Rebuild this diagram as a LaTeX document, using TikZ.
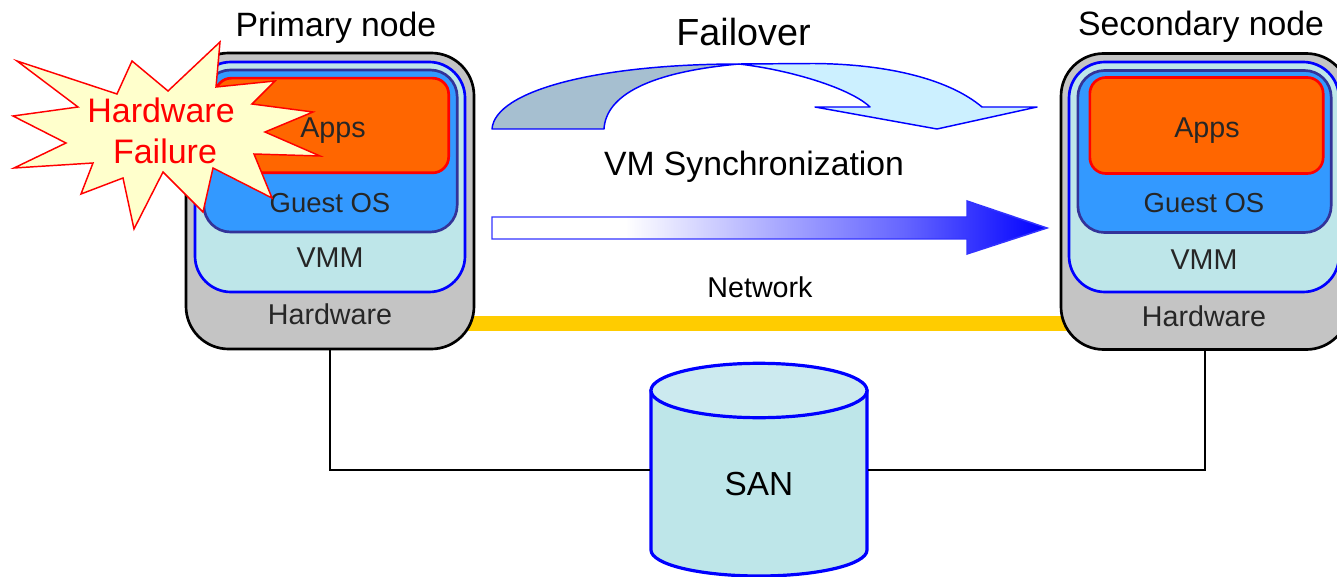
\documentclass[tikz,border=0pt]{standalone}
\usepackage{fontspec}
\setmainfont{Liberation Sans}
\definecolor{hwgray}{HTML}{C4C4C4}
\definecolor{vmmfill}{HTML}{BEE6E9}
\definecolor{osfill}{HTML}{3399FF}
\definecolor{osline}{HTML}{333399}
\definecolor{appfill}{HTML}{FF6600}
\definecolor{netline}{HTML}{FFCC00}
\definecolor{starfill}{HTML}{FFFFCC}
\definecolor{foldfill}{HTML}{A6BFD0}
\definecolor{foldfront}{HTML}{CCF0FF}
\definecolor{santop}{HTML}{CCEAEF}
\pgfdeclarehorizontalshading{syncshade}{100bp}{color(0bp)=(white);color(30bp)=(white);color(37bp)=(white);color(50bp)=(blue!32!white);color(62bp)=(blue!60!white);color(75bp)=(blue);color(100bp)=(blue)}
\tikzset{
  x=0.75pt,y=-0.75pt,
  hwbox/.style={draw=black,line width=2pt,fill=hwgray,rounded corners=32pt,minimum width=216pt,minimum height=222pt,inner sep=0pt},
  vmmbox/.style={draw=blue,line width=2pt,fill=vmmfill,rounded corners=27pt,inner sep=0pt},
  osbox/.style={draw=osline,line width=2pt,fill=osfill,rounded corners=20pt,inner sep=0pt},
  appbox/.style={draw=red,line width=2pt,fill=appfill,rounded corners=12pt,inner sep=0pt},
  lbl/.style={font=\fontsize{21.5}{24}\selectfont,text=black!85,inner sep=0pt},
  oslbl/.style={font=\fontsize{20.6}{24}\selectfont,text=black!85,inner sep=0pt},
  title/.style={font=\fontsize{25.3}{28}\selectfont,text=black,inner sep=0pt},
  redlbl/.style={font=\fontsize{25.5}{28}\selectfont,text=red,inner sep=0pt},
  shapeline/.style={draw=blue,line width=1.1pt,line join=round},
  sanline/.style={draw=blue,line width=2.4pt},
  wire/.style={draw=black,line width=0.8pt},
}
\begin{document}
\begin{tikzpicture}
\useasboundingbox[fill=white] (0,0) rectangle (1337,577);
\clip (0,0) rectangle (1337,577);
% network
\coordinate (netL) at (460,323.5);
\coordinate (netR) at (1075,323.5);
\draw[netline,line width=11.5pt] (netL) -- (netR);
% primary
\node[hwbox] (hwL) at (330,201) {};
\node[vmmbox,minimum width=202.5pt,minimum height=172.5pt] (vmmL) at (330,177) {};
\node[osbox,minimum width=190pt,minimum height=121.5pt] (osL) at (330.5,151) {};
\node[appbox,minimum width=175pt,minimum height=71pt] (appL) at (332,125.5) {};
\node[lbl] (tappL) at (333,131) {Apps};
\node[oslbl] (tosL) at (330,203) {Guest OS};
\node[lbl] (tvmmL) at (330,258) {VMM};
\node[lbl] (thwL) at (330,314) {Hardware};
% secondary
\node[hwbox] (hwR) at (1205,201.5) {};
\node[vmmbox,minimum width=202.5pt,minimum height=172.5pt] (vmmR) at (1204,177) {};
\node[osbox,minimum width=190pt,minimum height=121.5pt] (osR) at (1204.5,151.5) {};
\node[appbox,minimum width=175pt,minimum height=72pt] (appR) at (1206.5,125.5) {};
\node[lbl] (tappR) at (1207,131) {Apps};
\node[oslbl] (tosR) at (1204,203) {Guest OS};
\node[lbl] (tvmmR) at (1204,260) {VMM};
\node[lbl] (thwR) at (1204,316) {Hardware};
% titles
\node[title] (tprim) at (336,28) {Primary node};
\node[title] (tsec) at (1201,27) {Secondary node};
\node[font=\fontsize{28.3}{32}\selectfont,inner sep=0pt] (tfail) at (743.5,32) {Failover};
\node[title] (tsync) at (754,167) {VM Synchronization};
\node[lbl,text=black] (tnet) at (760,287) {Network};
% SAN
\path[sanline,fill=vmmfill] (651,391) -- (651,550) arc[start angle=180,end angle=360,x radius=81pt,y radius=19.5pt] -- (867,391) -- cycle;
\path[sanline,fill=santop] (759,390.5) ellipse[x radius=81pt,y radius=20.4pt];
\node[font=\fontsize{25}{28}\selectfont,inner sep=0pt,minimum width=163pt,minimum height=100pt] (san) at (759,470) {};
\node[font=\fontsize{25}{28}\selectfont,inner sep=0pt] (tsan) at (759,484) {SAN};
\draw[wire] (hwL.south) |- (san.west);
\draw[wire] (hwR.south) |- (san.east);
% failover arrow
\path[shapeline,fill=foldfill] (492,129) .. controls (495,90) and (600,64) .. (739,64) .. controls (650,72) and (606,95) .. (604,129) -- cycle;
\path[shapeline,fill=foldfront] (739,64) -- (813,63.5) .. controls (890,64) and (950,80) .. (982,107) -- (1037,107) -- (937,129) -- (815,107) -- (870,107) .. controls (850,88) and (790,70) .. (739,64) -- cycle;
% sync arrow
\path[shade,shading=syncshade,draw=blue!80!white,line width=1.1pt] (492,217) -- (967,217) -- (967,201) -- (1047,228) -- (967,254) -- (967,239) -- (492,239) -- cycle;
% star
\path[draw=red,line width=1.1pt,fill=starfill,line join=miter] (17,61) -- (117,94) -- (132,61) -- (168,91) -- (220,42) -- (216,87) -- (275,81) -- (252,104) -- (313,112) -- (265,132) -- (320,156) -- (254,154) -- (272,198) -- (213,168) -- (203,212) -- (163,172) -- (134,229) -- (123,178) -- (81,194) -- (93,163) -- (14,168) -- (66,143) -- (13,116) -- (78,107) -- cycle;
\node[redlbl] (tfail1) at (161,110) {Hardware};
\node[redlbl] (tfail2) at (165,151) {Failure};
\end{tikzpicture}
\end{document}
